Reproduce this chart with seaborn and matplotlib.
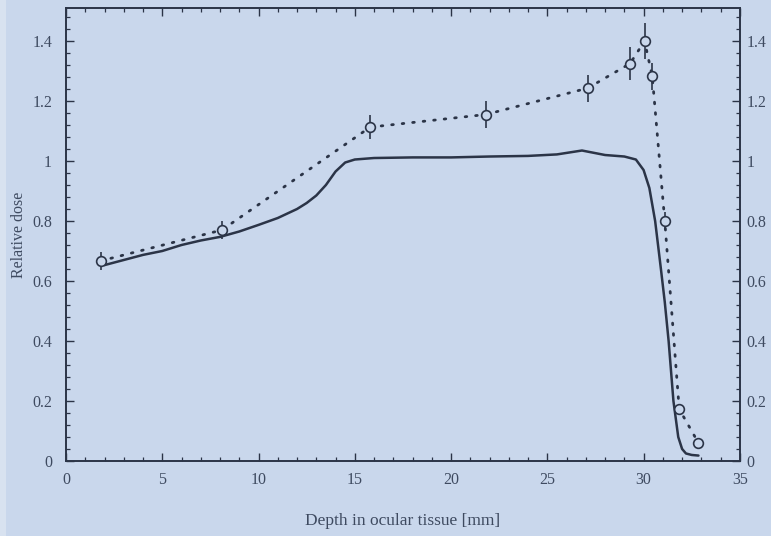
import numpy as np
import pandas as pd
import matplotlib
matplotlib.use("Agg")
import matplotlib.pyplot as plt
from matplotlib.patches import Rectangle
from matplotlib.ticker import MultipleLocator, FuncFormatter
import seaborn as sns

# Measured dose points with uncertainties
meas_depth = [1.8, 8.1, 15.8, 21.8, 27.1, 29.3, 30.05, 30.45, 31.1, 31.85, 32.85]
meas_dose = [0.667, 0.77, 1.113, 1.155, 1.243, 1.325, 1.40, 1.283, 0.80, 0.173, 0.06]
meas_err = [0.03, 0.03, 0.04, 0.045, 0.045, 0.055, 0.06, 0.045, 0.03, 0.0, 0.0]

# Calculated depth-dose curve
calc_depth = [2.0, 3.0, 4.0, 5.0, 6.0, 7.0, 8.0, 9.0, 10.0, 11.0, 12.0, 12.5, 13.0,
              13.5, 14.0, 14.5, 15.0, 16.0, 18.0, 20.0, 22.0, 24.0, 25.5, 26.8,
              28.0, 29.0, 29.6, 30.0, 30.3, 30.6, 30.9, 31.1, 31.3, 31.55, 31.8,
              32.0, 32.2, 32.5, 32.85]
calc_dose = [0.653, 0.67, 0.687, 0.70, 0.72, 0.735, 0.747, 0.765, 0.787, 0.81, 0.84,
             0.86, 0.885, 0.92, 0.965, 0.995, 1.005, 1.01, 1.012, 1.012, 1.015,
             1.017, 1.022, 1.035, 1.02, 1.015, 1.005, 0.97, 0.91, 0.80, 0.64,
             0.53, 0.40, 0.20, 0.08, 0.04, 0.025, 0.02, 0.018]

paper = "#c9d7ec"
ink = "#2b3447"
text_ink = "#3e4a60"

sns.set_theme(style="ticks")
plt.rcParams["font.family"] = ["Liberation Serif", "DejaVu Serif"]

fig = plt.figure(figsize=(7.71, 5.36), dpi=100, facecolor=paper)
# pale page edge along the left border
fig.patches.append(Rectangle((0, 0), 0.008, 1, transform=fig.transFigure,
                             facecolor="#d8e2f0", edgecolor="none", zorder=0))
ax = fig.add_axes([0.0856, 0.14, 0.874, 0.845], facecolor=paper)

calc = pd.DataFrame({"depth": calc_depth, "dose": calc_dose})
meas = pd.DataFrame({"depth": meas_depth, "dose": meas_dose, "err": meas_err})

sns.lineplot(data=calc, x="depth", y="dose", ax=ax, color=ink, linewidth=1.8,
             sort=False, estimator=None)
sns.lineplot(data=meas, x="depth", y="dose", ax=ax, color=ink, linewidth=2.0,
             sort=False, estimator=None, linestyle=(0, (0.6, 3.2)),
             dash_capstyle="round")
ax.errorbar(meas["depth"], meas["dose"], yerr=meas["err"], fmt="none",
            ecolor=ink, elinewidth=1.2, capsize=0, zorder=3)
ax.plot(meas["depth"], meas["dose"], "o", ms=7, mfc=paper, mec=ink, mew=1.2,
        zorder=4)

ax.set_xlim(0, 35)
ax.set_ylim(0, 1.51)
yfmt = FuncFormatter(lambda v, p: f"{v:g}")
ax.xaxis.set_major_locator(MultipleLocator(5))
ax.xaxis.set_minor_locator(MultipleLocator(1))
ax.yaxis.set_major_locator(MultipleLocator(0.2))
ax.yaxis.set_minor_locator(MultipleLocator(0.04))
ax.yaxis.set_major_formatter(yfmt)

ax.tick_params(which="both", direction="in", colors=ink, top=True, right=False,
               labelcolor=text_ink, labelsize=11.5)
ax.tick_params(axis="y", pad=10)
ax.tick_params(axis="x", pad=8)
ax.tick_params(which="major", length=6, width=1.0)
ax.tick_params(which="minor", length=3, width=0.9)

# right-hand dose scale
ax2 = ax.twinx()
ax2.set_ylim(ax.get_ylim())
ax2.yaxis.set_major_locator(MultipleLocator(0.2))
ax2.yaxis.set_minor_locator(MultipleLocator(0.04))
ax2.yaxis.set_major_formatter(yfmt)
ax2.tick_params(which="both", direction="in", colors=ink, labelcolor=text_ink,
                labelsize=11.5, pad=5)
ax2.tick_params(which="major", length=6, width=1.0)
ax2.tick_params(which="minor", length=3, width=0.9)

for a in (ax, ax2):
    for s in a.spines.values():
        s.set_color(ink)
        s.set_linewidth(1.2)

ax.set_xlabel("Depth in ocular tissue [mm]", color=text_ink, fontsize=12.5, labelpad=18)
ax.set_ylabel("Relative dose", color=text_ink, fontsize=11.5, labelpad=4)

fig.savefig("out.png", dpi=100, facecolor=paper)
